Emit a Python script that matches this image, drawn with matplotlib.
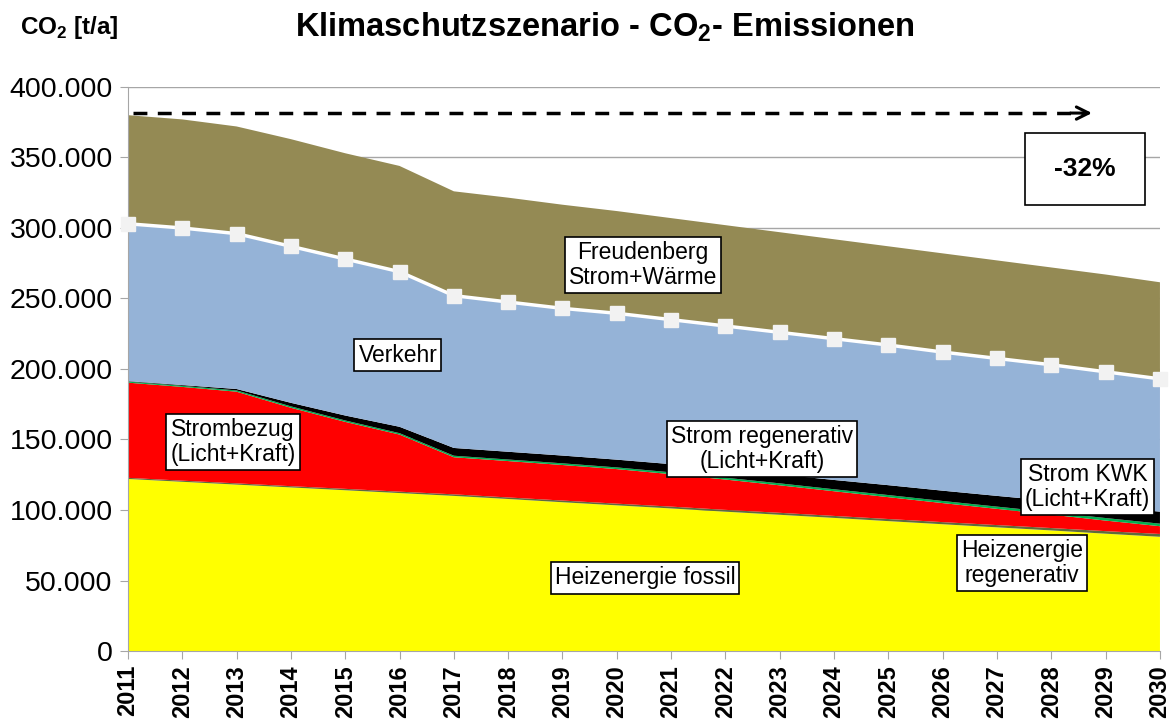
# -*- coding: utf-8 -*-
"""
Klimaschutzszenario - CO2-Emissionen als gestapelte Flächen
"""

import matplotlib
matplotlib.use("Agg")
import matplotlib.pyplot as plt
from matplotlib.patches import Rectangle
from matplotlib.ticker import FuncFormatter, MultipleLocator

# Daten (t/a), von unten nach oben gestapelt
jahre = list(range(2011, 2031))

heizenergie_fossil = [122000, 120000, 118000, 116000, 114000, 112000, 110000, 107800, 105500, 103300,
                      101100, 98800, 96600, 94400, 92100, 89900, 87700, 85500, 83200, 81000]
heizenergie_regenerativ = [800, 800, 900, 900, 1000, 1000, 1100, 1100, 1200, 1200,
                           1300, 1300, 1400, 1400, 1500, 1500, 1600, 1700, 1800, 2000]
strombezug = [67500, 66500, 65000, 55600, 47500, 40500, 26300, 25800, 25200, 24500,
              23000, 21500, 19500, 17500, 15500, 13500, 11500, 9500, 7500, 5500]
strom_regenerativ = [800, 800, 900, 1000, 1000, 1000, 1100, 1100, 1200, 1200,
                     1300, 1300, 1400, 1400, 1500, 1500, 1600, 1700, 1800, 1800]
strom_kwk = [300, 500, 1000, 2500, 3500, 4500, 5500, 5500, 5500, 5500,
             5800, 6000, 6300, 6600, 7000, 7300, 7600, 8000, 8300, 8500]
verkehr = [111600, 111400, 110200, 111000, 111000, 110000, 108000, 106200, 104400, 103800,
           102500, 101600, 100800, 100200, 99400, 98300, 97500, 96600, 95400, 94200]
freudenberg = [77000, 77000, 76000, 76000, 75000, 75000, 74000, 74000, 73500, 72500,
               72000, 71500, 71000, 70500, 70000, 70000, 69500, 69000, 69000, 68500]

farben = ["#FFFF00", "#5F6B3C", "#FF0000", "#00B050", "#000000", "#95B3D7", "#948A54"]

# Beschriftungen: (Text, Jahr, Wert)
beschriftungen = [
    ("Freudenberg\nStrom+Wärme", 2020.48, 273700),
    ("Verkehr", 2015.97, 209900),
    ("Strombezug\n(Licht+Kraft)", 2012.93, 148200),
    ("Strom regenerativ\n(Licht+Kraft)", 2022.67, 143300),
    ("Strom KWK\n(Licht+Kraft)", 2028.67, 116300),
    ("Heizenergie\nregenerativ", 2027.46, 62400),
    ("Heizenergie fossil", 2020.52, 51800),
]

SCHRIFT = ["Liberation Sans", "DejaVu Sans"]


def tausender(v, pos):
    return f"{int(v):,}".replace(",", ".")


def zeichnen():
    plt.rcParams["font.family"] = SCHRIFT
    plt.rcParams["mathtext.fontset"] = "custom"
    plt.rcParams["mathtext.rm"] = "Liberation Sans:bold"
    plt.rcParams["mathtext.bf"] = "Liberation Sans:bold"

    fig = plt.figure(figsize=(11.75, 7.26), dpi=100)
    ax = fig.add_axes([0.1089, 0.1033, 0.8783, 0.7769])

    ax.yaxis.grid(True, color="#A6A6A6", lw=1.0, zorder=0)
    ax.set_axisbelow(True)

    ax.stackplot(jahre, heizenergie_fossil, heizenergie_regenerativ, strombezug,
                 strom_regenerativ, strom_kwk, verkehr, freudenberg,
                 colors=farben, lw=0, zorder=2)

    # weiße Linie mit Quadraten auf Oberkante Verkehr
    oben_verkehr = [sum(w) for w in zip(heizenergie_fossil, heizenergie_regenerativ, strombezug,
                                        strom_regenerativ, strom_kwk, verkehr)]
    ax.plot(jahre, oben_verkehr, color="white", lw=2.5, marker="s", markersize=10,
            markerfacecolor="#F2F2F2", markeredgecolor="#F2F2F2", zorder=3, clip_on=False)

    # Pfeil -32%
    start = sum([heizenergie_fossil[0], heizenergie_regenerativ[0], strombezug[0],
                 strom_regenerativ[0], strom_kwk[0], verkehr[0], freudenberg[0]])
    ax.plot([2011.1, 2028.6], [start + 1500] * 2, color="black", lw=2.5, ls=(0, (4, 3)), zorder=4)
    ax.annotate("", xy=(2028.8, start + 1500), xytext=(2028.3, start + 1500),
                arrowprops=dict(arrowstyle="->", lw=2.2, color="black", mutation_scale=22),
                zorder=4)
    ax.add_patch(Rectangle((2027.51, 316300), 2.21, 51100, fc="white", ec="black", lw=1.2, zorder=5))
    ax.text(2028.615, 341800, "-32%", ha="center", va="center", fontsize=19, fontweight="bold",
            zorder=6)

    for text, x, y in beschriftungen:
        ax.text(x, y, text, ha="center", va="center", fontsize=16.5, linespacing=1.1,
                bbox=dict(boxstyle="square,pad=0.18", fc="white", ec="black", lw=1.2), zorder=5)

    ax.set_xlim(2011, 2030)
    ax.set_ylim(0, 400000)
    ax.set_xticks(jahre)
    ax.set_xticklabels([str(j) for j in jahre], rotation=90, fontsize=17, fontweight="bold")
    ax.yaxis.set_major_locator(MultipleLocator(50000))
    ax.yaxis.set_major_formatter(FuncFormatter(tausender))
    ax.tick_params(axis="y", labelsize=20.5, length=6, color="#A6A6A6", pad=5)
    ax.tick_params(axis="x", length=6, color="#A6A6A6", pad=4)

    for s in ["top", "right"]:
        ax.spines[s].set_visible(False)
    ax.spines["left"].set_color("#A6A6A6")
    ax.spines["bottom"].set_color("#A6A6A6")

    fig.text(0.515, 0.962, r"Klimaschutzszenario - CO$_{2}$- Emissionen", ha="center", va="center",
             fontsize=23.5, fontweight="bold")
    fig.text(0.017, 0.962, r"CO$_{2}$ [t/a]", ha="left", va="center", fontsize=17.5, fontweight="bold")

    fig.savefig("out.png", dpi=100)


def main():
    zeichnen()


if __name__ == "__main__":
    main()
